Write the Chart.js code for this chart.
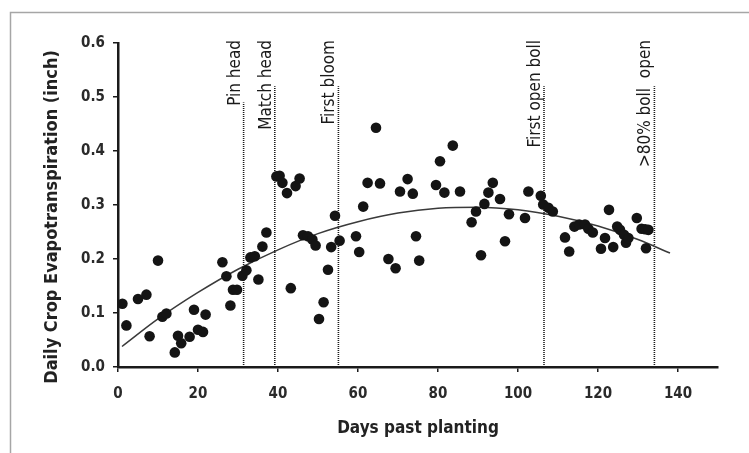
<!DOCTYPE html>
<html>
<head>
<meta charset="utf-8">
<script src="https://cdn.jsdelivr.net/npm/chart.js@4.4.1/dist/chart.umd.min.js"></script>
<style>
  html, body { margin: 0; padding: 0; background: #ffffff; }
  #wrap { position: relative; width: 749px; height: 453px; }
  canvas { display: block; }
</style>
</head>
<body>
<div id="wrap"><canvas id="c" width="749" height="453"></canvas></div>
<script>
// ---- data ----
const days = [
  1.1, 2.1, 5.0, 7.1, 7.9, 10.0, 11.1, 12.1, 14.2, 15.0, 15.8, 17.9, 19.0, 20.0, 21.25, 21.9,
  26.1, 27.1, 28.1, 28.75, 29.75, 31.1, 32.1, 33.1, 34.2, 35.1, 36.1, 37.1,
  39.6, 40.4, 41.1, 42.25, 43.2, 44.4, 45.4, 46.25, 47.5, 48.6, 49.4, 50.25, 51.4, 52.5, 53.3, 54.25, 55.4,
  59.5, 60.3, 61.3, 62.4, 64.5, 65.5, 67.6, 69.4, 70.5, 72.4, 73.7, 74.5, 75.3,
  79.5, 80.5, 81.6, 83.7, 85.5, 88.4, 89.5, 90.75, 91.6, 92.6, 93.7, 95.5, 96.75, 97.75,
  101.75, 102.6, 105.7, 106.3, 107.6, 108.7, 111.75, 112.8, 114.1,
  115.3, 116.75, 117.6, 118.7, 120.75, 121.75, 122.75, 123.8, 124.8, 125.5, 126.5, 127.0, 127.6,
  129.7, 130.9, 131.8, 132.0, 132.6
];
const etValues = [
  0.117, 0.077, 0.126, 0.134, 0.057, 0.197, 0.093, 0.099, 0.027, 0.058, 0.044, 0.056, 0.106, 0.069, 0.065, 0.097,
  0.194, 0.168, 0.114, 0.143, 0.143, 0.169, 0.179, 0.203, 0.205, 0.162, 0.223, 0.249,
  0.353, 0.354, 0.341, 0.322, 0.146, 0.335, 0.349, 0.244, 0.242, 0.236, 0.225, 0.089, 0.120, 0.180, 0.222, 0.280, 0.234,
  0.242, 0.213, 0.297, 0.341, 0.443, 0.340, 0.200, 0.183, 0.325, 0.348, 0.321, 0.242, 0.197,
  0.337, 0.381, 0.323, 0.410, 0.325, 0.268, 0.288, 0.207, 0.302, 0.323, 0.341, 0.311, 0.233, 0.283,
  0.276, 0.325, 0.317, 0.301, 0.295, 0.288, 0.240, 0.214, 0.260,
  0.264, 0.264, 0.256, 0.249, 0.219, 0.239, 0.291, 0.222, 0.260, 0.254, 0.245, 0.230, 0.239,
  0.276, 0.256, 0.255, 0.220, 0.254
];
// trend curve at these days
const trendDays   = [1, 10, 20, 30, 40, 50, 60, 70, 80, 90, 100, 110, 120, 130, 138];
const trendValues = [0.038, 0.089, 0.138, 0.181, 0.217, 0.247, 0.269, 0.285, 0.294, 0.296, 0.291, 0.279, 0.261, 0.236, 0.211];
// growth stage markers
const stageNames = ['Pin head', 'Match head', 'First bloom', 'First open boll', '>80% boll  open'];
const stageDays  = [31.4, 39.2, 55.1, 106.5, 134.1];
const stageTops  = [0.49, 0.52, 0.52, 0.52, 0.52];
// axes
const xTickValues = [0, 20, 40, 60, 80, 100, 120, 140];
const yTickValues = [0.0, 0.1, 0.2, 0.3, 0.4, 0.5, 0.6];
const xTitle = 'Days past planting';
const yTitle = 'Daily Crop Evapotranspiration (inch)';

const FONT = "'Liberation Sans Narrow', 'Arial Narrow', 'DejaVu Sans Condensed', sans-serif";
const INK = '#141414';

const pointData = days.map((d, i) => ({ x: d, y: etValues[i] }));
const trendData = trendDays.map((d, i) => ({ x: d, y: trendValues[i] }));

const stageSets = stageDays.map((d, i) => ({
  type: 'line',
  label: stageNames[i],
  data: [{ x: d, y: 0 }, { x: d, y: stageTops[i] }],
  borderColor: '#1a1a1a',
  borderWidth: 1.6,
  borderDash: [1, 1],
  pointRadius: 0,
  fill: false,
  order: 2
}));

const framePlugin = {
  id: 'frame',
  beforeDraw(chart) {
    const ctx = chart.ctx;
    ctx.save();
    ctx.fillStyle = '#ffffff';
    ctx.fillRect(0, 0, chart.width, chart.height);
    ctx.strokeStyle = '#a6a6a6';
    ctx.lineWidth = 1.5;
    ctx.beginPath();
    ctx.moveTo(10.5, chart.height);
    ctx.lineTo(10.5, 12.5);
    ctx.lineTo(chart.width, 12.5);
    ctx.stroke();
    ctx.restore();
  }
};

const labelPlugin = {
  id: 'stageLabels',
  afterDatasetsDraw(chart) {
    const ctx = chart.ctx;
    const xs = chart.scales.x, ys = chart.scales.y;
    ctx.save();
    ctx.fillStyle = '#1a1a1a';
    ctx.font = "17px " + FONT;
    ctx.textAlign = 'right';
    ctx.textBaseline = 'alphabetic';
    stageDays.forEach((d, i) => {
      const px = xs.getPixelForValue(d) - 4;
      const py = ys.top - 3;
      ctx.save();
      ctx.translate(px, py);
      ctx.rotate(-Math.PI / 2);
      ctx.fillText(stageNames[i], 0, 0);
      ctx.restore();
    });
    // y axis title
    ctx.font = "bold 18px " + FONT;
    ctx.textAlign = 'center';
    ctx.textBaseline = 'middle';
    ctx.fillStyle = '#222';
    ctx.save();
    ctx.translate(52, (ys.top + ys.bottom) / 2 + 12);
    ctx.rotate(-Math.PI / 2);
    ctx.fillText(yTitle, 0, 0);
    ctx.restore();
    ctx.restore();
  }
};

new Chart(document.getElementById('c'), {
  type: 'scatter',
  data: {
    datasets: [
      {
        label: 'ET',
        data: pointData,
        backgroundColor: INK,
        borderColor: INK,
        borderWidth: 0,
        pointRadius: 5.3,
        pointHoverRadius: 5.3,
        order: 0
      },
      {
        type: 'line',
        label: 'Trend',
        data: trendData,
        borderColor: '#3a3a3a',
        borderWidth: 1.5,
        pointRadius: 0,
        cubicInterpolationMode: 'monotone',
        fill: false,
        order: 1
      },
      ...stageSets
    ]
  },
  options: {
    responsive: false,
    animation: false,
    devicePixelRatio: 1,
    layout: { padding: { left: 0, right: 31, top: 43, bottom: 0 } },
    plugins: {
      legend: { display: false },
      tooltip: { enabled: false },
      title: { display: false }
    },
    scales: {
      x: {
        type: 'linear',
        min: 0,
        max: 150,
        afterBuildTicks(scale) { scale.ticks = xTickValues.map(v => ({ value: v })); },
        afterFit(scale) { scale.height = 86; },
        ticks: {
          color: '#2a2a2a',
          font: { family: FONT, size: 15, weight: 'bold' },
          padding: 13,
          maxRotation: 0,
          callback: v => String(v)
        },
        grid: { drawOnChartArea: false, drawTicks: true, tickLength: 5, color: '#1a1a1a', lineWidth: 1.5 },
        border: { display: true, color: '#1a1a1a', width: 2.5 },
        title: {
          display: true,
          text: xTitle,
          color: '#222',
          font: { family: FONT, size: 17, weight: 'bold' },
          padding: { top: 0, bottom: 14 }
        }
      },
      y: {
        type: 'linear',
        min: 0,
        max: 0.6,
        afterBuildTicks(scale) { scale.ticks = yTickValues.map(v => ({ value: v })); },
        afterFit(scale) { scale.width = 118; },
        ticks: {
          color: '#2a2a2a',
          font: { family: FONT, size: 15, weight: 'bold' },
          padding: 8,
          callback: v => Number(v).toFixed(1)
        },
        grid: { drawOnChartArea: false, drawTicks: true, tickLength: 5, color: '#1a1a1a', lineWidth: 1.5 },
        border: { display: true, color: '#1a1a1a', width: 2.5 }
      }
    }
  },
  plugins: [framePlugin, labelPlugin]
});
</script>
</body>
</html>
